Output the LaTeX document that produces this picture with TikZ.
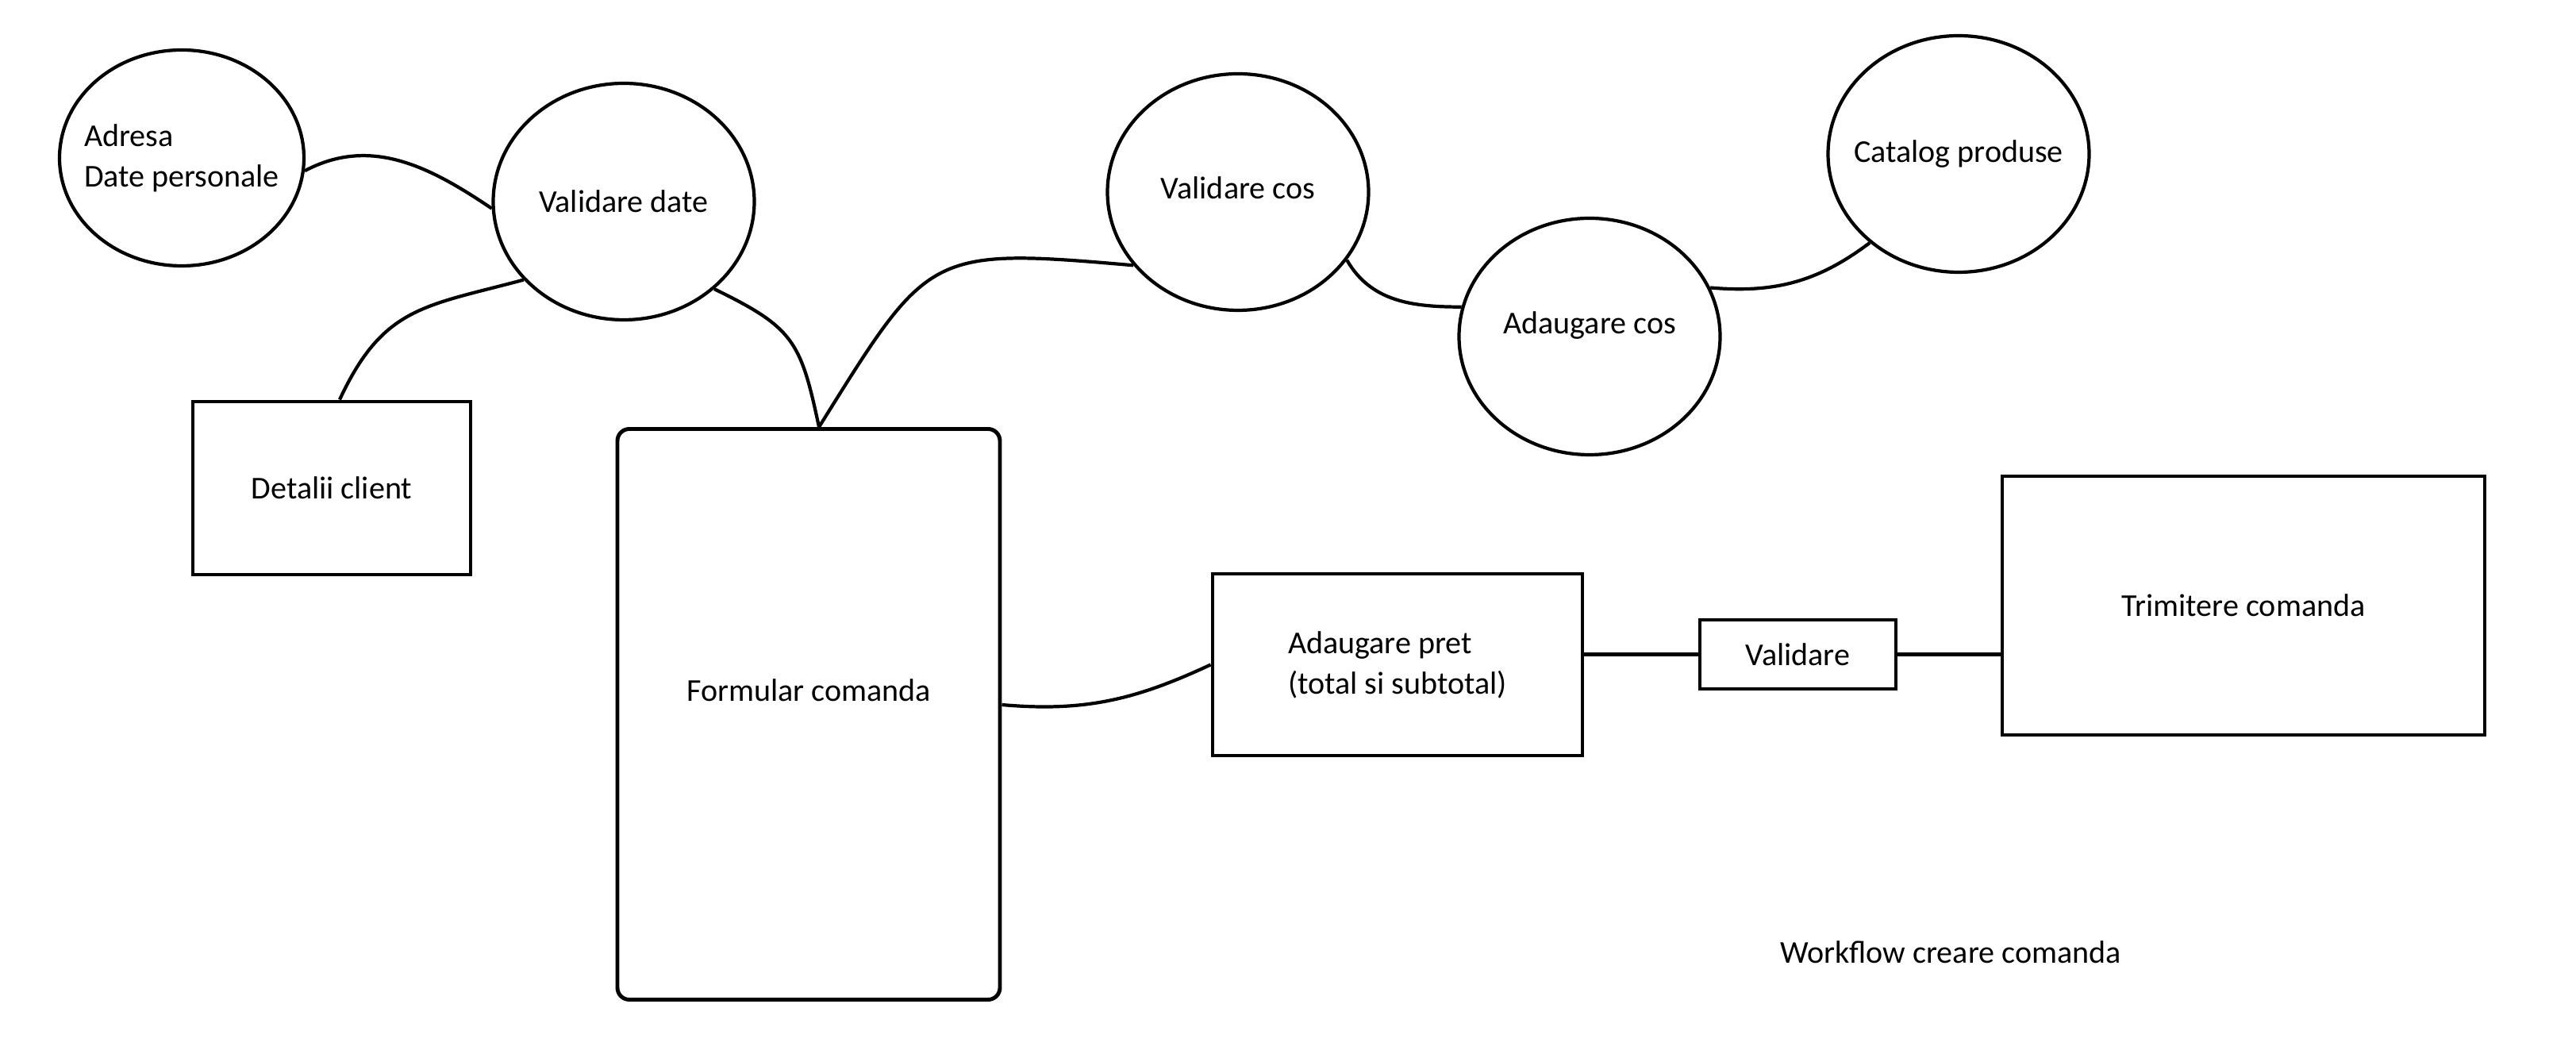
\documentclass[tikz,border=0pt]{standalone}
\usepackage{fontspec}
\setmainfont{Carlito}
\usetikzlibrary{positioning,shapes.geometric}
\begin{document}
\begin{tikzpicture}[on grid,line width=1.2pt,
  every node/.style={font=\fontsize{11.4}{14.5}\selectfont},
  bubble/.style={ellipse,draw,inner sep=0pt,inner xsep=-0.4cm,minimum width=3.29cm,minimum height=2.98cm},
  box/.style={rectangle,draw,line width=1.4pt,inner sep=0pt}]
  \useasboundingbox (0,0) rectangle (32.46,13.28);
  \node[bubble,minimum width=3.08cm,minimum height=2.72cm,align=left] (adr) at (2.29,11.29) {Adresa\\Date personale};
  \node[bubble] [below right=0.55cm and 5.57cm of adr] (v_date) {Validare date};
  \node[box,minimum width=3.5cm,minimum height=2.18cm] [below right=4.16cm and 1.89cm of adr] (det) {Detalii client};
  \node[box,rounded corners=0.15cm,minimum width=4.82cm,minimum height=7.19cm,text depth=0.6cm] [below right=6.46cm and 2.33cm of v_date] (form) {Formular comanda};
  \coordinate[right=0.13cm of form.north] (ftop);
  \node[bubble,text depth=0.1cm] [above right=0.12cm and 7.74cm of v_date] (v_cos) {Validare cos};
  \node[bubble,text depth=0.35cm] [below right=1.82cm and 4.43cm of v_cos] (a_cos) {Adaugare cos};
  \node[bubble] [above right=2.3cm and 4.65cm of a_cos] (cat) {Catalog produse};
  \node[box,align=left,minimum width=4.66cm,minimum height=2.29cm] [above right=0.625cm and 7.42cm of form] (pret) {Adaugare pret\\(total si subtotal)};
  \node[box,minimum width=2.47cm,minimum height=0.87cm] [above right=0.13cm and 5.045cm of pret] (val) {Validare};
  \node[box,minimum width=6.08cm,minimum height=3.26cm] [above right=0.615cm and 5.615cm of val] (trim) {Trimitere comanda};
  \node [below right=3.755cm and 1.925cm of val] (wf) {Workflow creare comanda};
  \path
  (adr.354) edge [out=28,in=146] (v_date.183)
  ([xshift=1mm]det.north) edge [out=65,in=195,looseness=1.2] (v_date.218)
  (v_date.316) edge [out=-26,in=102,looseness=1.3] (ftop)
  (ftop) edge [out=58,in=175,looseness=1.5] (v_cos.215)
  (v_cos.328) edge [out=-60,in=180] (a_cos.167)
  (a_cos.22) edge [out=-5,in=217] (cat.225)
  ([yshift=1.2mm]form.east) edge [out=-5,in=205] (pret.west)
  (val.west -| pret.east) edge (val.west)
  (val.east) edge (val.east -| trim.west);
\end{tikzpicture}
\end{document}
